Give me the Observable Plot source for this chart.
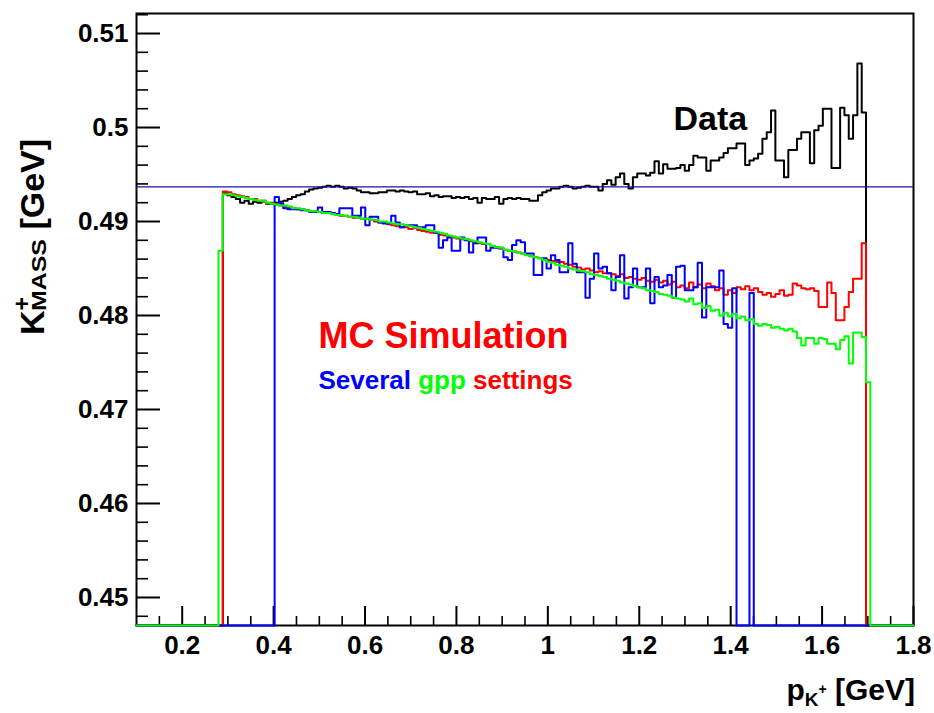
<!DOCTYPE html>
<html><head><meta charset="utf-8">
<script src="https://cdn.jsdelivr.net/npm/d3@7"></script>
<script src="https://cdn.jsdelivr.net/npm/@observablehq/plot@0.6"></script>
<style>body{margin:0;background:#fff;} #chart svg{display:block;}</style>
</head><body><div id="chart"></div>
<script>
// Histogram definition: 180 bins in [0.1, 1.8] GeV
const xMin = 0.1, xMax = 1.8, nBins = 180;
const yDomain = [0.44702, 0.51213];
const pdgMass = 0.493677;

const xMajorTicks = [0.2, 0.4, 0.6, 0.8, 1, 1.2, 1.4, 1.6, 1.8];
const xMinorTicks = d3.range(3, 36).filter(i => i % 4 !== 0).map(i => +(i * 0.05).toFixed(2));
const yMajorTicks = [0.45, 0.46, 0.47, 0.48, 0.49, 0.5, 0.51];
const yMinorTicks = d3.range(224, 257).filter(i => i % 5 !== 0).map(i => +(i * 0.002).toFixed(3));

// Data (black), first filled bin 20
const dataStart = 20;
const dataValues = [
  0.4930,0.4928,0.4926,0.4924,0.4920,0.4922,0.4919,0.4921,0.4920,0.4922,
  0.4919,0.4919,0.4920,0.4921,0.4922,0.4924,0.4926,0.4928,0.4929,0.4932,
  0.4934,0.4935,0.4936,0.4937,0.4938,0.4937,0.4938,0.4937,0.4935,0.4936,
  0.4935,0.4933,0.4931,0.4931,0.4930,0.4930,0.4931,0.4931,0.4933,0.4933,
  0.4932,0.4933,0.4932,0.4931,0.4932,0.4929,0.4929,0.4930,0.4927,0.4928,
  0.4926,0.4927,0.4927,0.4925,0.4926,0.4925,0.4926,0.4924,0.4925,0.4920,
  0.4925,0.4924,0.4924,0.4926,0.4919,0.4924,0.4925,0.4924,0.4925,0.4924,
  0.4924,0.4922,0.4922,0.4928,0.4931,0.4933,0.4935,0.4935,0.4937,0.4938,
  0.4937,0.4935,0.4936,0.4937,0.4938,0.4937,0.4937,0.4933,0.4940,0.4944,
  0.4939,0.4947,0.4951,0.4940,0.4935,0.4947,0.4951,0.4951,0.4949,0.4952,
  0.4964,0.4951,0.4961,0.4956,0.4956,0.4957,0.4960,0.4954,0.4960,0.4970,
  0.4968,0.4968,0.4954,0.4965,0.4965,0.4968,0.4973,0.4978,0.4978,0.4983,
  0.4983,0.4960,0.4965,0.4967,0.4972,0.4988,0.4995,0.5018,0.4965,0.4965,
  0.4947,0.4976,0.4976,0.4988,0.4995,0.4995,0.4962,0.4997,0.5002,0.5020,
  0.5020,0.4957,0.4957,0.5021,0.5013,0.4988,0.5013,0.5068,0.5016
];

// MC red, first filled bin 20
const redStart = 20;
const redValues = [
  0.4932,0.4931,0.4929,0.4928,0.4927,0.4926,0.4924,0.4924,0.4922,0.4921,
  0.4920,0.4920,0.4918,0.4917,0.4916,0.4915,0.4914,0.4913,0.4913,0.4912,
  0.4911,0.4911,0.4910,0.4909,0.4909,0.4908,0.4907,0.4906,0.4906,0.4905,
  0.4904,0.4904,0.4903,0.4903,0.4902,0.4900,0.4899,0.4899,0.4897,0.4896,
  0.4895,0.4894,0.4894,0.4892,0.4893,0.4891,0.4890,0.4889,0.4888,0.4888,
  0.4886,0.4885,0.4884,0.4883,0.4882,0.4881,0.4881,0.4879,0.4878,0.4877,
  0.4876,0.4876,0.4874,0.4873,0.4871,0.4870,0.4869,0.4868,0.4867,0.4866,
  0.4865,0.4863,0.4862,0.4861,0.4860,0.4859,0.4858,0.4857,0.4857,0.4855,
  0.4854,0.4852,0.4851,0.4849,0.4850,0.4848,0.4846,0.4847,0.4845,0.4845,
  0.4844,0.4842,0.4844,0.4840,0.4841,0.4839,0.4838,0.4840,0.4837,0.4836,
  0.4838,0.4835,0.4837,0.4833,0.4836,0.4830,0.4832,0.4829,0.4835,0.4830,
  0.4833,0.4829,0.4834,0.4831,0.4827,0.4829,0.4822,0.4827,0.4824,0.4830,
  0.4828,0.4831,0.4827,0.4829,0.4825,0.4822,0.4824,0.4820,0.4823,0.4827,
  0.4821,0.4822,0.4834,0.4832,0.4829,0.4828,0.4829,0.4826,0.4809,0.4809,
  0.4835,0.4824,0.4795,0.4795,0.4809,0.4825,0.4839,0.4839,0.4877
];

// MC blue, first filled bin 32 (0 = empty bin)
const blueStart = 32;
const blueValues = [
  0.4926,0.4919,0.4914,0.4913,0.4913,0.4913,0.4912,0.4912,0.4910,0.4910,
  0.4915,0.4910,0.4910,0.4909,0.4908,0.4914,0.4914,0.4914,0.4906,0.4906,
  0.4915,0.4896,0.4905,0.4905,0.4899,0.4898,0.4898,0.4906,0.4899,0.4894,
  0.4896,0.4896,0.4896,0.4894,0.4894,0.4896,0.4896,0.4888,0.4872,0.4880,
  0.4883,0.4869,0.4869,0.4883,0.4880,0.4867,0.4877,0.4883,0.4883,0.4869,
  0.4872,0.4872,0.4872,0.4862,0.4859,0.4875,0.4880,0.4878,0.4866,0.4866,
  0.4843,0.4843,0.4861,0.4850,0.4864,0.4859,0.4846,0.4846,0.4877,0.4855,
  0.4846,0.4846,0.4819,0.4839,0.4866,0.4850,0.4852,0.4845,0.4827,0.4841,
  0.4864,0.4818,0.4830,0.4850,0.4830,0.4830,0.4850,0.4813,0.4841,0.4830,
  0.4832,0.4843,0.4819,0.4852,0.4853,0.4827,0.4827,0.4830,0.4856,0.4798,
  0.4830,0.4830,0.4830,0.4848,0.4791,0.4787,0.4829,0,0,0,
  0.4824
];

// MC green, first filled bin 19
const greenStart = 19;
const greenValues = [
  0.4869,
  0.4929,0.4929,0.4928,0.4927,0.4926,0.4925,0.4924,0.4923,0.4922,0.4922,
  0.4920,0.4919,0.4918,0.4917,0.4917,0.4916,0.4914,0.4914,0.4913,0.4912,
  0.4911,0.4911,0.4910,0.4909,0.4909,0.4908,0.4907,0.4907,0.4906,0.4905,
  0.4905,0.4904,0.4903,0.4903,0.4902,0.4902,0.4900,0.4900,0.4899,0.4898,
  0.4897,0.4897,0.4896,0.4895,0.4894,0.4893,0.4892,0.4891,0.4890,0.4889,
  0.4888,0.4887,0.4885,0.4884,0.4883,0.4882,0.4881,0.4880,0.4879,0.4878,
  0.4877,0.4876,0.4874,0.4873,0.4872,0.4870,0.4869,0.4868,0.4867,0.4866,
  0.4864,0.4863,0.4862,0.4861,0.4859,0.4857,0.4856,0.4854,0.4853,0.4852,
  0.4850,0.4849,0.4848,0.4847,0.4846,0.4844,0.4843,0.4842,0.4841,0.4839,
  0.4838,0.4837,0.4835,0.4834,0.4833,0.4831,0.4830,0.4829,0.4827,0.4826,
  0.4825,0.4823,0.4822,0.4821,0.4819,0.4818,0.4817,0.4815,0.4818,0.4812,
  0.4813,0.4808,0.4810,0.4805,0.4806,0.4800,0.4803,0.4799,0.4802,0.4797,
  0.4799,0.4795,0.4796,0.4791,0.4789,0.4791,0.4790,0.4787,0.4788,0.4786,
  0.4784,0.4786,0.4783,0.4776,0.4768,0.4776,0.4776,0.4770,0.4776,0.4775,
  0.4770,0.4770,0.4764,0.4774,0.4778,0.4749,0.4782,0.4782,0.4777,0.4729
];

const seriesColors = {data: "#000000", red: "#ff0000", blue: "#0000ff", green: "#00ff00"};
const refColor = "#1414a0";
const FONT = "'Liberation Sans', Arial, Helvetica, sans-serif";

// ROOT-style histogram outline: every bin (empty ones at 0 -> clamped to the frame bottom)
function histRows(start, values) {
  const full = new Array(nBins).fill(0);
  values.forEach((v, i) => { full[start + i] = v; });
  const w = (xMax - xMin) / nBins;
  const rows = full.map((v, k) => ({x: xMin + k * w, y: v}));
  rows.push({x: xMax, y: full[nBins - 1]});
  return rows;
}
const dataRows = histRows(dataStart, dataValues);
const redRows = histRows(redStart, redValues);
const blueRows = histRows(blueStart, blueValues);
const greenRows = histRows(greenStart, greenValues);

const histLine = (rows, color) => Plot.line(rows, {x: "x", y: "y", curve: "step-after", stroke: color, strokeWidth: 2});

const plot = Plot.plot({
  width: 934,
  height: 713,
  marginLeft: 136,
  marginRight: 21,
  marginTop: 13,
  marginBottom: 88,
  style: {background: "#fff", fontFamily: FONT},
  x: {domain: [xMin, xMax], clamp: true},
  y: {domain: yDomain, clamp: true},
  marks: [
    Plot.frame({stroke: "black", strokeWidth: 2}),
    // ticks inside the frame
    Plot.axisY(yMajorTicks, {anchor: "left", tickSize: 24, dx: 24, strokeWidth: 2, fill: "none", label: null}),
    Plot.axisY(yMinorTicks, {anchor: "left", tickSize: 12, dx: 12, strokeWidth: 1.6, fill: "none", label: null}),
    Plot.axisX(xMajorTicks, {anchor: "bottom", tickSize: 19, dy: -19, strokeWidth: 2, fill: "none", label: null}),
    Plot.axisX(xMinorTicks, {anchor: "bottom", tickSize: 9, dy: -9, strokeWidth: 1.6, fill: "none", label: null}),
    // tick labels
    Plot.axisY(yMajorTicks, {anchor: "left", tickSize: 0, tickPadding: 8, fontSize: 26, fontWeight: "bold", fill: "black", tickFormat: d => String(d), label: null}),
    Plot.axisX(xMajorTicks, {anchor: "bottom", tickSize: 0, tickPadding: 10, fontSize: 26, fontWeight: "bold", fill: "black", tickFormat: d => String(d), label: null}),
    // histograms
    histLine(dataRows, seriesColors.data),
    histLine(redRows, seriesColors.red),
    histLine(blueRows, seriesColors.blue),
    histLine(greenRows, seriesColors.green),
    Plot.ruleY([pdgMass], {stroke: refColor, strokeWidth: 1.3}),
    // annotations
    Plot.text(["Data"], {x: 1.275, y: 0.4997, text: d => d, textAnchor: "start", lineAnchor: "bottom", fontSize: 34, fontWeight: "bold", fill: "black"}),
    Plot.text(["MC Simulation"], {x: 0.498, y: 0.47649, text: d => d, textAnchor: "start", lineAnchor: "bottom", fontSize: 36, fontWeight: "bold", fill: "#ff0000"}),
    Plot.text(["Several gpp settings"], {x: 0.498, y: 0.47213, text: d => d, textAnchor: "start", lineAnchor: "bottom", fontSize: 26, fontWeight: "bold", fill: "#0000ff"})
  ]
});

document.getElementById("chart").appendChild(plot);
const svg = d3.select(plot);

// multi-coloured legend line
svg.selectAll("text").filter(function() { return this.textContent === "Several gpp settings"; })
  .each(function() {
    const t = d3.select(this);
    t.text(null);
    t.append("tspan").attr("fill", "#0000ff").text("Several ");
    t.append("tspan").attr("fill", "#00ff00").text("gpp ");
    t.append("tspan").attr("fill", "#ff0000").text("settings");
  });

// y axis title  K^{+}_{MASS} [GeV]
const yt = svg.append("text")
  .attr("transform", "translate(44,335) rotate(-90)")
  .attr("text-anchor", "start")
  .attr("font-family", FONT).attr("font-weight", "bold").attr("font-size", 34).attr("fill", "black");
yt.append("tspan").text("K");
yt.append("tspan").attr("font-size", 23).attr("dy", -14).text("+");
yt.append("tspan").attr("font-size", 21).attr("dx", -14).attr("dy", 16).attr("textLength", 72).attr("lengthAdjust", "spacingAndGlyphs").text("MASS");
yt.append("tspan").attr("dy", -2).text(" [GeV]");

// x axis title  p_{K^{+}} [GeV]
const xt = svg.append("text")
  .attr("x", 915).attr("y", 700).attr("text-anchor", "end")
  .attr("font-family", FONT).attr("font-weight", "bold").attr("font-size", 30).attr("fill", "black");
xt.append("tspan").text("p");
xt.append("tspan").attr("font-size", 19).attr("dy", 6).text("K");
xt.append("tspan").attr("font-size", 14).attr("dy", -12).text("+");
xt.append("tspan").attr("dy", 6).text(" [GeV]");
</script>
</body></html>
